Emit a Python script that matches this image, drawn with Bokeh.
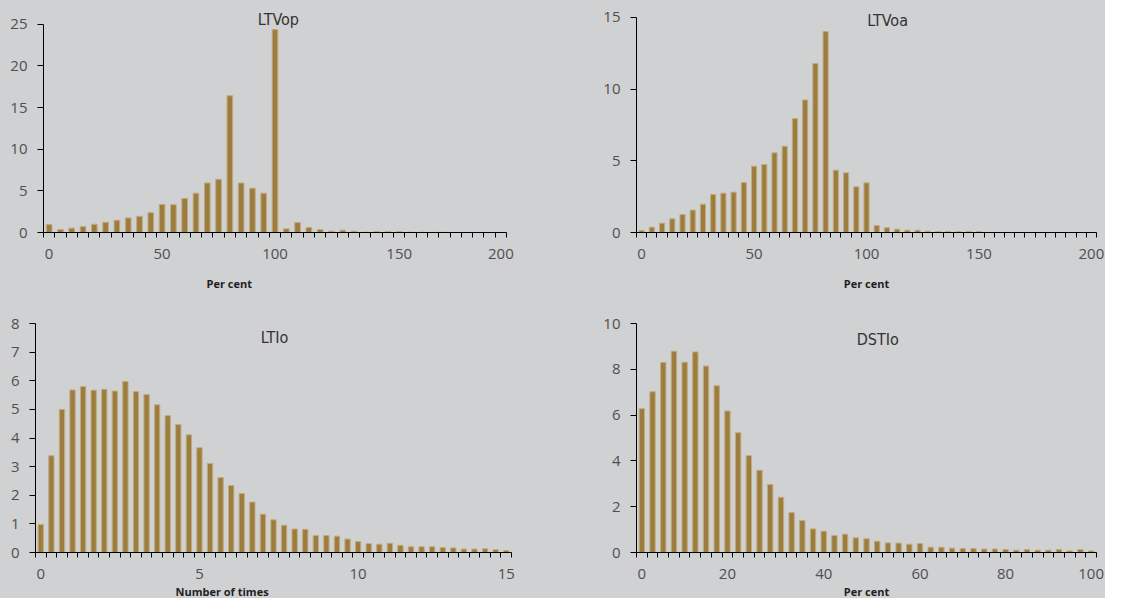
from bokeh.plotting import figure
from bokeh.layouts import column, row
from bokeh.models import FixedTicker, Label, ColumnDataSource, Range1d, Title
from bokeh.embed import file_html
from bokeh.resources import INLINE

# ---------------- data ----------------
ltvop_values = [0.95, 0.36, 0.52, 0.71, 0.99, 1.23, 1.47, 1.75, 1.94, 2.38,
                3.37, 3.33, 4.09, 4.72, 5.95, 6.39, 16.43, 5.95, 5.32, 4.72,
                24.37, 0.44, 1.19, 0.60, 0.36, 0.16, 0.28, 0.16, 0.03, 0.12,
                0.12, 0.12, 0.03, 0.03, 0.02, 0.02, 0.0, 0.0, 0.0, 0.0, 0.0]
ltvop_tick_pos = [0, 10, 20, 31, 40]
ltvop_tick_labels = ["0", "50", "100", "150", "200"]

ltvoa_values = [0.14, 0.37, 0.65, 0.95, 1.25, 1.56, 1.97, 2.65, 2.74, 2.81,
                3.48, 4.62, 4.74, 5.55, 6.01, 7.94, 9.24, 11.77, 14.00, 4.34,
                4.16, 3.18, 3.46, 0.49, 0.33, 0.23, 0.16, 0.16, 0.09, 0.07,
                0.07, 0.07, 0.07, 0.07, 0.0, 0.0, 0.0, 0.0, 0.0, 0.0,
                0.0, 0.0, 0.0, 0.0, 0.0]
ltvoa_tick_pos = [0, 11, 22, 33, 44]
ltvoa_tick_labels = ["0", "50", "100", "150", "200"]

ltio_values = [0.98, 3.38, 5.00, 5.68, 5.80, 5.67, 5.70, 5.64, 5.97, 5.62,
               5.52, 5.16, 4.78, 4.47, 4.11, 3.66, 3.11, 2.62, 2.34, 2.06,
               1.76, 1.34, 1.14, 0.95, 0.82, 0.81, 0.59, 0.59, 0.57, 0.47,
               0.38, 0.31, 0.29, 0.32, 0.25, 0.20, 0.20, 0.20, 0.17, 0.16,
               0.12, 0.12, 0.13, 0.10, 0.07]
ltio_tick_pos = [0, 15, 30, 44]
ltio_tick_labels = ["0", "5", "10", "15"]

dstio_values = [6.28, 7.02, 8.30, 8.79, 8.31, 8.76, 8.14, 7.28, 6.18, 5.23,
                4.23, 3.59, 2.97, 2.41, 1.74, 1.40, 1.03, 0.93, 0.74, 0.80,
                0.64, 0.60, 0.49, 0.42, 0.41, 0.36, 0.39, 0.23, 0.23, 0.19,
                0.17, 0.17, 0.15, 0.15, 0.13, 0.10, 0.13, 0.10, 0.10, 0.13,
                0.07, 0.13, 0.07]
dstio_tick_pos = [0, 8, 17, 26, 34, 42]
dstio_tick_labels = ["0", "20", "40", "60", "80", "100"]

titles = ["LTVop", "LTVoa", "LTIo", "DSTIo"]
xlabels = ["Per cent", "Per cent", "Number of times", "Per cent"]

BG = "#cfd1d3"
BAR = "#9c7d3f"
BAR_EDGE = "#c2ab7b"
TICK_COLOR = "#4f4f4f"
TITLE_FONT = "DejaVu Sans Condensed, Open Sans"


def make_panel(values, tick_pos, tick_labels, ymax, yend, ystep, title, xlabel,
               width, height, borders, title_xy, xlabel_align, xlabel_offset,
               xlabel_standoff):
    n = len(values)
    left, right, top, bottom = borders
    p = figure(width=width, height=height, output_backend="svg",
               toolbar_location=None,
               x_range=Range1d(-0.5, n - 0.5), y_range=Range1d(0, yend),
               min_border_left=left, min_border_right=right,
               min_border_top=top, min_border_bottom=bottom)
    p.background_fill_color = BG
    p.border_fill_color = BG
    p.outline_line_color = None
    p.xgrid.visible = False
    p.ygrid.visible = False

    src = ColumnDataSource(dict(x=list(range(n)), top=values))
    p.vbar(x="x", top="top", width=0.5, bottom=0, source=src,
           fill_color=BAR, line_color=BAR_EDGE, line_width=1)

    # x axis: labels at category centres, tick marks at category boundaries
    xa = p.xaxis[0]
    xa.ticker = FixedTicker(ticks=tick_pos,
                            minor_ticks=[i - 0.5 for i in range(n + 1)])
    xa.major_label_overrides = {pos: lab for pos, lab in zip(tick_pos, tick_labels)}
    xa.major_tick_out = 0
    xa.major_tick_in = 0
    xa.minor_tick_out = 5
    xa.minor_tick_in = 0
    xa.minor_tick_line_color = "black"
    xa.axis_line_color = "black"
    xa.major_label_text_font = "Open Sans"
    xa.major_label_text_font_size = "15px"
    xa.major_label_text_color = TICK_COLOR
    xa.major_label_standoff = 11

    ya = p.yaxis[0]
    ya.ticker = FixedTicker(ticks=[ystep * k for k in range(int(round(ymax / ystep)) + 1)])
    ya.bounds = (0, ymax)
    ya.major_tick_out = 6
    ya.major_tick_in = 0
    ya.minor_tick_out = 0
    ya.minor_tick_in = 0
    ya.major_tick_line_color = "black"
    ya.axis_line_color = "black"
    ya.major_label_text_font = "Open Sans"
    ya.major_label_text_font_size = "15px"
    ya.major_label_text_color = TICK_COLOR
    ya.major_label_standoff = 10

    p.add_layout(Label(x=title_xy[0], y=title_xy[1], text=title,
                       text_font=TITLE_FONT, text_font_size="16px",
                       text_color="#333333", text_align="center",
                       text_baseline="middle"))
    p.add_layout(Title(text=xlabel, align=xlabel_align, offset=xlabel_offset,
                       standoff=xlabel_standoff,
                       text_font="Open Sans", text_font_style="bold",
                       text_font_size="11px", text_color="#1f1f1f"), "below")
    return p


# borders are (left, right, top, bottom) in pixels
p1 = make_panel(ltvop_values, ltvop_tick_pos, ltvop_tick_labels, 25, 27.26, 5,
                titles[0], xlabels[0], 600, 303, (43, 94, 5, 69),
                (20.3, 25.63), "left", 163, 24)
p2 = make_panel(ltvoa_values, ltvoa_tick_pos, ltvoa_tick_labels, 15, 15.82, 5,
                titles[1], xlabels[1], 505, 303, (34, 9, 5, 71),
                (24.06, 14.79), "center", 0, 24)
p3 = make_panel(ltio_values, ltio_tick_pos, ltio_tick_labels, 8, 8, 1,
                titles[2], xlabels[2], 600, 295, (35, 89, 20, 44),
                (22.1, 7.52), "left", 140, 0)
p4 = make_panel(dstio_values, dstio_tick_pos, dstio_tick_labels, 10, 10, 2,
                titles[3], xlabels[3], 505, 295, (34, 9, 20, 46),
                (22.05, 9.30), "center", 0, 0)

layout = column(row(p1, p2, spacing=0, styles={"background-color": BG}),
                row(p3, p4, spacing=0, styles={"background-color": BG}),
                spacing=0, styles={"background-color": BG})

open("out.html", "w").write(file_html(layout, INLINE))
